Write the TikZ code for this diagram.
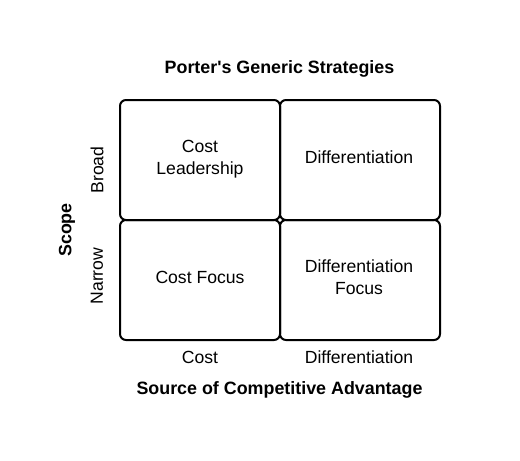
\documentclass[tikz,border=0pt]{standalone}
\usepackage{fontspec}
\setmainfont{Liberation Sans}
\begin{document}
\begin{tikzpicture}[x=0.75pt,y=-0.75pt,
  cell/.style={draw,line width=1.5pt,rounded corners=4.5pt,minimum width=120pt,minimum height=90pt,inner sep=0pt},
  txt/.style={align=center,inner sep=0pt,font=\fontsize{13.2}{16.5}\selectfont},
  lbl/.style={font=\fontsize{13.2}{16.5}\selectfont,inner sep=0pt},
  ttl/.style={font=\fontsize{13.4}{16.5}\selectfont\bfseries,inner sep=0pt}]
\useasboundingbox[fill=white] (0,0) rectangle (520,460);
\node[cell] (cl) at (200,160) {};
\node[cell] (df) at (360,160) {};
\node[cell] (cf) at (200,280) {};
\node[cell] (dff) at (360,280) {};
\node[txt] (tcl) at (200,159) {Cost\\Leadership};
\node[txt] (tdf) at (359,157.6) {Differentiation};
\node[txt] (tcf) at (200,277.7) {Cost Focus};
\node[txt] (tdff) at (359,277.6) {Differentiation\\Focus};
\node[ttl,anchor=base] (title) at (279.5,74) {Porter\textquotesingle s Generic Strategies};
\node[ttl,anchor=base] (src) at (279.5,394) {Source of Competitive Advantage};
\node[ttl,rotate=90] (scope) at (67,230) {Scope};
\node[lbl,rotate=90] (broad) at (97,170) {Broad};
\node[lbl,rotate=90] (narrow) at (97,276) {Narrow};
\node[lbl,anchor=base] (cost) at (200,363) {Cost};
\node[lbl,anchor=base] (diff) at (359,363) {Differentiation};
\end{tikzpicture}
\end{document}
